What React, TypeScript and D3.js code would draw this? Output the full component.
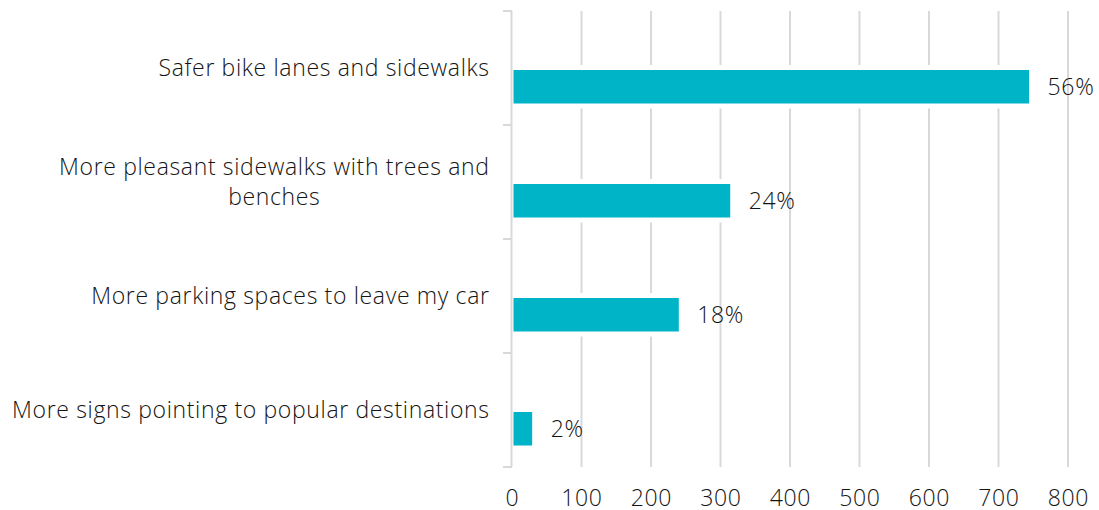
import React from "react";
import * as d3 from "d3";

const categories: string[][] = [
  ["Safer bike lanes and sidewalks"],
  ["More pleasant sidewalks with trees and", "benches"],
  ["More parking spaces to leave my car"],
  ["More signs pointing to popular destinations"],
];
const values: number[] = [744, 314, 240, 29];
const valueLabels: string[] = ["56%", "24%", "18%", "2%"];
const xTicks: number[] = [0, 100, 200, 300, 400, 500, 600, 700, 800];

const W = 1099;
const H = 510;
const left = 512;
const right = 1068;
const top = 11;
const bottom = 467;
const FONT = "'Open Sans', sans-serif";
const BAR = "#00B4C8";
const GRID = "#d9d9d9";
const TEXT = "#141414";
const FS = 23;
const LS = 0.65;

export default function App() {
  const x = d3.scaleLinear().domain([0, 800]).range([left, right]);
  const y = d3
    .scaleBand<number>()
    .domain(categories.map((_, i) => i))
    .range([top, bottom])
    .paddingInner(0)
    .paddingOuter(0);
  const bw = y.bandwidth();
  const barH = 33.5;
  const bounds = d3.range(categories.length + 1).map((i) => top + i * bw);

  return (
    <svg
      width={W}
      height={H}
      style={{ position: "absolute", left: 0, top: 0, background: "#fff" }}
      fontFamily={FONT}
      fontWeight={330}
      letterSpacing={LS}
    >
      {xTicks.slice(1).map((t) => (
        <line key={t} x1={x(t)} x2={x(t)} y1={top} y2={bottom} stroke={GRID} strokeWidth={2} />
      ))}
      {values.map((v, i) => {
        const c = (y(i) as number) + bw / 2;
        const by = c + 2;
        return (
          <g key={i}>
            <rect x={x(0)} y={by - 5} width={x(v) - x(0) + 5} height={barH + 10} fill="#fff" />
            <rect x={x(0) + 1.5} y={by} width={x(v) - x(0) - 1.5} height={barH} fill={BAR} />
            <text
              x={x(v) + 18.5}
              y={by + barH / 2}
              dy="0.35em"
              fontSize={FS}
              fill={TEXT}
            >
              {valueLabels[i]}
            </text>
          </g>
        );
      })}
      <line x1={left - 0.5} x2={left - 0.5} y1={top} y2={bottom} stroke={GRID} strokeWidth={2} />
      {bounds.map((b, i) => (
        <line key={i} x1={left - 9} x2={left} y1={b} y2={b} stroke={GRID} strokeWidth={2} />
      ))}
      {categories.map((lines, i) => {
        const c = (y(i) as number) + bw / 2;
        const lh = 29.5;
        const n = lines.length;
        const textRight = 489 + LS;
        if (n === 1) {
          return (
            <text key={i} x={textRight} y={c} dy="0.35em" textAnchor="end" fontSize={FS} fill={TEXT}>
              {lines[0]}
            </text>
          );
        }
        return (
          <text key={i} fontSize={FS} fill={TEXT} className={"ml" + i}>
            {lines.map((l, j) => (
              <tspan key={j} x={0} y={c - ((n - 1) * lh) / 2 + j * lh} dy="0.35em" data-line={j}>
                {l}
              </tspan>
            ))}
          </text>
        );
      })}
      <MultiFix />
      {xTicks.map((t) => (
        <text key={t} x={x(t) + LS / 2} y={497.5} dy="0.35em" textAnchor="middle" fontSize={FS} fill={TEXT}>
          {t}
        </text>
      ))}
    </svg>
  );
}

function MultiFix() {
  const ref = React.useRef<SVGGElement>(null);
  React.useEffect(() => {
    const svg = ref.current?.ownerSVGElement;
    if (!svg) return;
    const textRight = 489 + LS;
    svg.querySelectorAll("text[class^='ml']").forEach((t) => {
      const spans = Array.from(t.querySelectorAll("tspan")) as SVGTSpanElement[];
      const widths = spans.map((s) => s.getComputedTextLength());
      const maxW = d3.max(widths) || 0;
      const center = textRight - maxW / 2;
      spans.forEach((s) => {
        s.setAttribute("x", String(center));
        s.setAttribute("text-anchor", "middle");
      });
    });
  });
  return <g ref={ref} />;
}
